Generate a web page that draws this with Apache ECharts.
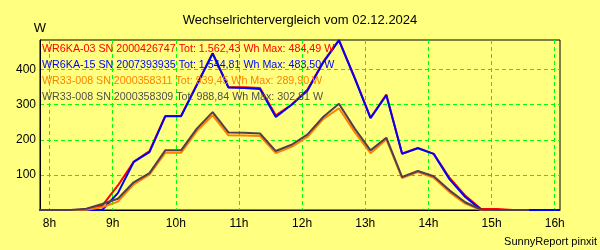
<!DOCTYPE html>
<html><head><meta charset="utf-8">
<script src="https://cdn.jsdelivr.net/npm/echarts@6/dist/echarts.min.js"></script>
<style>html,body{margin:0;padding:0;background:#FFFF80}#c{width:600px;height:250px}</style>
</head><body><div id="c"></div>
<script>
var times = ["07:50","08:05","08:20","08:35","08:50","09:05","09:20","09:35","09:50","10:05","10:20","10:35","10:50","11:05","11:20","11:35","11:50","12:05","12:20","12:35","12:50","13:05","13:20","13:35","13:50","14:05","14:20","14:35","14:50","15:05","15:20","15:35","15:50","16:05"];
var seriesNames = [
  "WR6KA-03 SN 2000426747 Tot: 1.562,43 Wh Max: 484,49 W",
  "WR6KA-15 SN 2007393935 Tot: 1.544,81 Wh Max: 483,50 W",
  "WR33-008 SN 2000358311 Tot: 939,45 Wh Max: 289,90 W",
  "WR33-008 SN 2000358309 Tot: 988,84 Wh Max: 302,81 W"
];
var red    = [0,0,0,0,12,70,137,168,268,268,358,447,350,350,348,270,300,343,422,484.49,377,263,329,161,177,160,92,41,3,3,0,0,null,null];
var blue   = [0,0,0,0,0,48,137,165,267,267,356,446,349,348,345,265,300,340,420,483.5,375,262,327,160,176,160,88,37,1,0,0,0,0,0];
var orange = [0,0,0,1,8,24,73,101,163,163,225,270,213,212,211,162,180,208,259,289.9,222,162,201,91,108,92,51,18,0,0,0,0,null,null];
var dark   = [0,0,0,3.5,17,32,79,105,170,170,232,279,221,220,218,168,186,215,265,302.81,232,170,206,94,111,96,56,22,1,0,0,0,null,null];
var hourTicks = [480,540,600,660,720,780,840,900,960];
var yTicks = [100,200,300,400];
var titleText = "Wechselrichtervergleich vom 02.12.2024";
var footerText = "SunnyReport pinxit";
var unitText = "W";

function toMin(s){var p=s.split(":");return (+p[0])*60+(+p[1]);}
function pairs(arr){return times.map(function(t,i){return [toMin(t), arr[i]];}).filter(function(p){return p[1]!==null;});}
var colors = ["#FF0000","#0000FF","#FF8000","#4E3E50"];
var textColors = ["#FF0000","#0000FF","#FF8000","#505050"];
var all = [red, blue, orange, dark];

var chart = echarts.init(document.getElementById('c'), null, {renderer:'canvas'});
var gridLine = {show:true, lineStyle:{color:'#00FF00', type:[4,3], width:1}};
chart.setOption({
  backgroundColor:'#FFFF80',
  animation:false,
  title:[
    {text:titleText, left:'center', top:14, padding:0, textStyle:{fontFamily:'Liberation Sans', fontSize:13, fontWeight:'normal', color:'#000'}},
    {text:footerText, right:3, top:236, padding:0, textStyle:{fontFamily:'Liberation Sans', fontSize:11, fontWeight:'normal', color:'#000'}}
  ],
  graphic: seriesNames.map(function(n,i){
    return {type:'text', x:42, y:49+i*16, z:10, style:{text:n, fill:textColors[i], verticalAlign:'middle', font:'10.7px "Liberation Sans"'}};
  }),
  grid:{left:40, right:40, top:40, bottom:40, show:true, borderColor:'#000', borderWidth:1, backgroundColor:'#FFFF80'},
  xAxis:{type:'value', min:471, max:965,
    axisLine:{lineStyle:{color:'#000', width:1}},
    axisTick:{show:false, customValues:hourTicks},
    axisLabel:{customValues:hourTicks, formatter:function(v){return (v/60)+'h';}, fontFamily:'Liberation Sans', fontSize:12, color:'#000', margin:8},
    splitLine:gridLine},
  yAxis:{type:'value', min:0, max:484.49, name:unitText, nameLocation:'end', nameGap:5,
    nameTextStyle:{fontFamily:'Liberation Sans', fontSize:13, color:'#000', align:'center'},
    axisLine:{show:true, lineStyle:{color:'#000', width:1}},
    axisTick:{show:false, customValues:yTicks},
    axisLabel:{customValues:yTicks, fontFamily:'Liberation Sans', fontSize:12, color:'#000', margin:4},
    splitLine:gridLine},
  series: all.map(function(d,i){
    return {type:'line', name:seriesNames[i], data:pairs(d), showSymbol:false, symbol:'none', z:2+i,
      lineStyle:{color:colors[i], width:2}, itemStyle:{color:colors[i]}};
  })
});
</script></body></html>
